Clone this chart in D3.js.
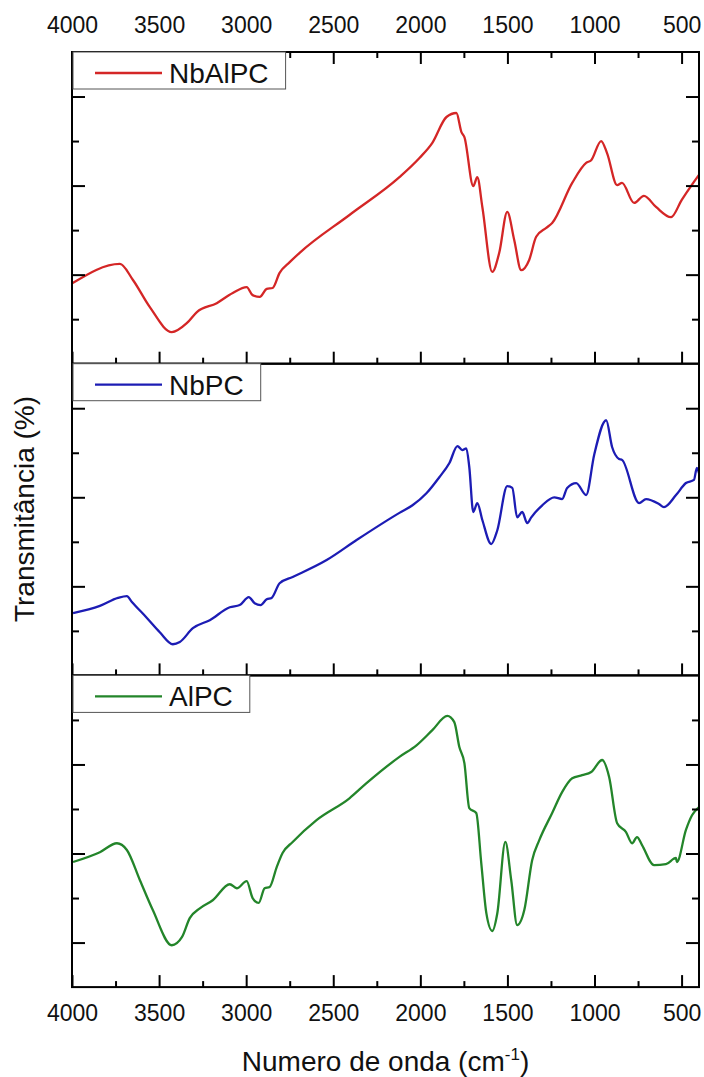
<!DOCTYPE html>
<html>
<head>
<meta charset="utf-8">
<script src="https://cdnjs.cloudflare.com/ajax/libs/d3/7.8.5/d3.min.js"></script>
<style>
    body { margin: 0; background: #fff; }
    text { font-family: "Liberation Sans", Arial, sans-serif; fill: #111; }
</style>
</head>
<body>
<svg id="chart" width="704" height="1077"></svg>
<script>

// Wavenumber ticks (cm-1)
var xMajorTicks = [4000, 3500, 3000, 2500, 2000, 1500, 1000, 500];
var xMinorTicks = [3750, 3250, 2750, 2250, 1750, 1250, 750];

// NbAlPC spectrum (arbitrary transmittance units)
var nbalpcWavenumber = [3996, 3725, 3650, 3553, 3427, 3341, 3283, 3169, 3077, 2997, 2963, 2922, 2882, 2848, 2808, 2750, 2693, 2407, 2120, 2005, 1931, 1850, 1793, 1764, 1747, 1696, 1673, 1644, 1587, 1547, 1501, 1461, 1421, 1375, 1335, 1277, 1243, 1128, 1048, 1019, 962, 928, 870, 842, 773, 716, 647, 561, 499, 442, 400];
var nbalpcTransmittance = [1.81, 2.24, 1.88, 1.27, 0.71, 0.91, 1.16, 1.36, 1.59, 1.72, 1.54, 1.50, 1.68, 1.70, 2.04, 2.28, 2.49, 3.34, 4.19, 4.62, 4.96, 5.54, 5.63, 5.20, 5.09, 3.99, 4.19, 3.52, 2.06, 2.49, 3.41, 2.78, 2.10, 2.33, 2.85, 3.05, 3.16, 4.06, 4.51, 4.57, 5.00, 4.73, 4.01, 4.06, 3.61, 3.77, 3.52, 3.29, 3.68, 4.01, 4.24];

// NbPC spectrum
var nbpcWavenumber = [3994, 3840, 3736, 3685, 3656, 3570, 3496, 3421, 3381, 3306, 3209, 3094, 3037, 2985, 2951, 2917, 2882, 2854, 2808, 2733, 2538, 2366, 2120, 2045, 1965, 1891, 1833, 1787, 1759, 1736, 1719, 1696, 1673, 1644, 1593, 1558, 1501, 1472, 1444, 1415, 1386, 1363, 1300, 1231, 1186, 1157, 1105, 1048, 1002, 933, 899, 859, 842, 744, 704, 630, 601, 532, 475, 429, 412, 400];
var nbpcTransmittance = [1.40, 1.56, 1.74, 1.78, 1.65, 1.29, 0.97, 0.70, 0.75, 1.06, 1.24, 1.53, 1.58, 1.76, 1.62, 1.58, 1.71, 1.74, 2.07, 2.21, 2.59, 3.04, 3.65, 3.82, 4.09, 4.45, 4.77, 5.15, 5.06, 5.10, 4.68, 3.67, 3.87, 3.49, 2.95, 3.26, 4.25, 4.21, 3.55, 3.67, 3.42, 3.55, 3.82, 4.00, 3.96, 4.21, 4.32, 4.05, 4.95, 5.73, 5.13, 4.86, 4.84, 3.87, 3.96, 3.85, 3.78, 4.05, 4.32, 4.39, 4.66, 4.54];

// AlPC spectrum
var alpcWavenumber = [3994, 3840, 3742, 3685, 3610, 3536, 3427, 3369, 3324, 3266, 3192, 3094, 3054, 2997, 2963, 2928, 2894, 2865, 2825, 2791, 2733, 2596, 2407, 2309, 2120, 2022, 1931, 1845, 1805, 1776, 1747, 1719, 1679, 1650, 1621, 1587, 1558, 1512, 1478, 1444, 1403, 1358, 1317, 1243, 1186, 1128, 1071, 1019, 956, 916, 870, 819, 784, 756, 727, 658, 590, 532, 527, 475, 440, 400];
var alpcTransmittance = [2.81, 3.03, 3.23, 3.08, 2.40, 1.73, 0.94, 1.12, 1.55, 1.77, 1.95, 2.31, 2.22, 2.38, 2.00, 1.89, 2.22, 2.25, 2.69, 3.01, 3.26, 3.75, 4.24, 4.58, 5.17, 5.43, 5.77, 6.09, 5.95, 5.39, 5.03, 4.02, 3.91, 2.78, 1.66, 1.26, 1.66, 3.26, 2.40, 1.39, 1.73, 2.85, 3.30, 3.91, 4.38, 4.69, 4.76, 4.83, 5.10, 4.72, 3.68, 3.48, 3.23, 3.37, 3.19, 2.74, 2.76, 2.90, 2.81, 3.53, 3.86, 4.04];

var seriesNames = ["NbAlPC", "NbPC", "AlPC"];
var seriesColors = ["#d42626", "#1c1cb4", "#23852a"];

// y ticks of each panel, major and minor
var yMajorTicks = [[2, 4, 6], [2, 4, 6], [1, 3, 5]];
var yMinorTicks = [[1, 3, 5], [1, 3, 5], [2, 4, 6]];

var svg = d3.select("#chart"),
    left = 72, right = 699,
    panelTop = 52, panelHeight = 311.7;

var x = d3.scaleLinear().domain([4000, 400]).range([left, right]);

var spectra = [
    {wn: nbalpcWavenumber, t: nbalpcTransmittance},
    {wn: nbpcWavenumber, t: nbpcTransmittance},
    {wn: alpcWavenumber, t: alpcTransmittance}
];

svg.append("defs").append("clipPath").attr("id", "plotClip")
    .append("rect")
    .attr("x", left).attr("y", panelTop)
    .attr("width", right - left).attr("height", panelHeight * 3);

function noLabels() { return ""; }

spectra.forEach(function (s, i) {
    var top = panelTop + i * panelHeight,
        bottom = top + panelHeight;

    var y = d3.scaleLinear().domain([0, 7]).range([bottom, top]);

    var line = d3.line()
        .curve(d3.curveMonotoneX)
        .x(function (d) { return x(d[0]); })
        .y(function (d) { return y(d[1]); });

    var points = s.wn.map(function (w, k) { return [w, s.t[k]]; });

    svg.append("path")
        .datum(points)
        .attr("clip-path", "url(#plotClip)")
        .attr("fill", "none")
        .attr("stroke", seriesColors[i])
        .attr("stroke-width", 2.3)
        .attr("stroke-linejoin", "round")
        .attr("d", line);

    // bottom ticks, pointing up
    var g = svg.append("g").attr("transform", "translate(0," + bottom + ")");
    g.call(d3.axisBottom(x).tickValues(xMajorTicks).tickSizeInner(-12).tickSizeOuter(0)
        .tickFormat(i === 2 ? d3.format("d") : noLabels).tickPadding(18));
    g.append("g").call(d3.axisBottom(x).tickValues(xMinorTicks).tickSizeInner(-6).tickSizeOuter(0).tickFormat(noLabels));

    // left and right ticks, pointing inward
    var gl = svg.append("g").attr("transform", "translate(" + left + ",0)");
    gl.call(d3.axisLeft(y).tickValues(yMajorTicks[i]).tickSizeInner(-13).tickSizeOuter(0).tickFormat(noLabels));
    gl.append("g").call(d3.axisLeft(y).tickValues(yMinorTicks[i]).tickSizeInner(-7).tickSizeOuter(0).tickFormat(noLabels));

    var gr = svg.append("g").attr("transform", "translate(" + right + ",0)");
    gr.call(d3.axisRight(y).tickValues(yMajorTicks[i]).tickSizeInner(-13).tickSizeOuter(0).tickFormat(noLabels));
    gr.append("g").call(d3.axisRight(y).tickValues(yMinorTicks[i]).tickSizeInner(-7).tickSizeOuter(0).tickFormat(noLabels));

    if (i === 0) {
        // top ticks with labels, pointing down
        var gt = svg.append("g").attr("transform", "translate(0," + top + ")");
        gt.call(d3.axisTop(x).tickValues(xMajorTicks).tickSizeInner(-12).tickSizeOuter(0)
            .tickFormat(d3.format("d")).tickPadding(19));
        gt.append("g").call(d3.axisTop(x).tickValues(xMinorTicks).tickSizeInner(-6).tickSizeOuter(0).tickFormat(noLabels));
    }

    // frame
    svg.append("rect")
        .attr("x", left).attr("y", top)
        .attr("width", right - left).attr("height", panelHeight)
        .attr("fill", "none")
        .attr("stroke", "#000")
        .attr("stroke-width", 2);
});

svg.selectAll(".domain").remove();
svg.selectAll(".tick line").attr("stroke", "#000").attr("stroke-width", 2);
svg.selectAll(".tick text").style("font-size", "23px").style("font-family", "'Liberation Sans', Arial, sans-serif").attr("fill", "#111");

// legends
seriesNames.forEach(function (name, i) {
    var top = panelTop + i * panelHeight;
    var lg = svg.append("g");
    var box = lg.append("rect")
        .attr("x", left + 1).attr("y", top)
        .attr("height", 37)
        .attr("fill", "#fff")
        .attr("stroke", "#555")
        .attr("stroke-width", 1);
    lg.append("line")
        .attr("x1", 95).attr("x2", 162)
        .attr("y1", top + 21).attr("y2", top + 21)
        .attr("stroke", seriesColors[i])
        .attr("stroke-width", 2.3);
    var t = lg.append("text")
        .attr("x", 169).attr("y", top + 31)
        .style("font-size", "28px")
        .text(name);
    var w = t.node().getComputedTextLength();
    box.attr("width", 169 + w + 17 - (left + 1));
});

// axis titles
var xt = svg.append("text")
    .attr("x", (left + right) / 2).attr("y", 1071)
    .attr("text-anchor", "middle")
    .style("font-size", "28px");
xt.append("tspan").text("Numero de onda (cm");
xt.append("tspan").attr("dy", -11).style("font-size", "17px").text("-1");
xt.append("tspan").attr("dy", 11).text(")");

svg.append("text")
    .attr("transform", "translate(34,509) rotate(-90)")
    .attr("text-anchor", "middle")
    .style("font-size", "28px")
    .text("Transmitância (%)");

</script>
</body>
</html>
